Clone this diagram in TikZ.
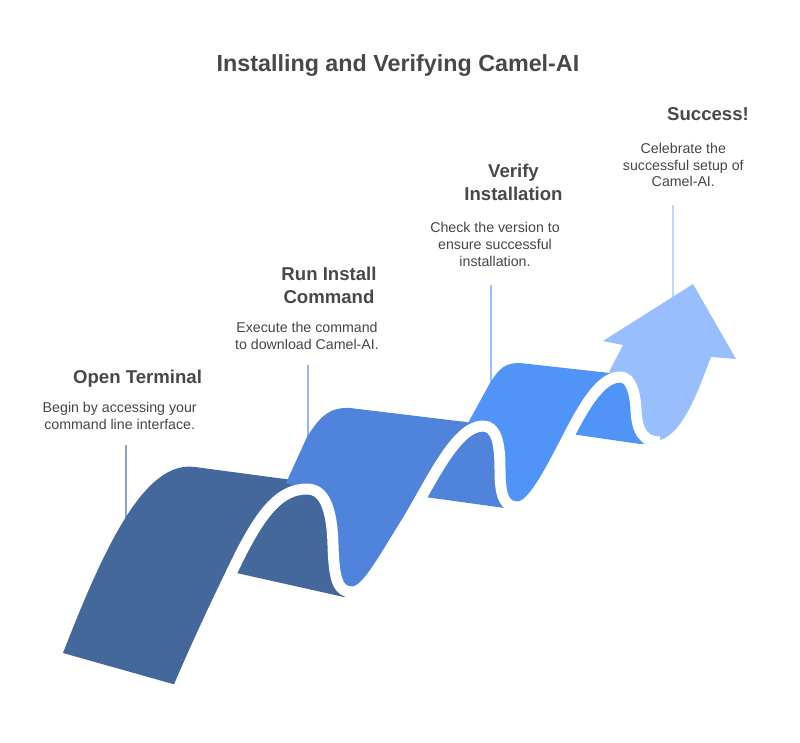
\documentclass[tikz,border=0pt]{standalone}
\usepackage{fontspec}
\setmainfont{Liberation Sans}

\definecolor{stepone}{HTML}{44679C}
\definecolor{steptwo}{HTML}{5084DC}
\definecolor{stepthree}{HTML}{5194F8}
\definecolor{stepfour}{HTML}{98BEFD}
\definecolor{headgray}{HTML}{484848}
\definecolor{descgray}{HTML}{454545}

\begin{document}
\begin{tikzpicture}[x=1pt, y=-1pt,
    title/.style={font=\bfseries\fontsize{23.3}{28}\selectfont, text=headgray, anchor=base, inner sep=0pt},
    heading/.style={font=\bfseries\fontsize{18.6}{22.8}\selectfont, text=headgray, align=center, anchor=base, inner sep=0pt},
    desc/.style={font=\fontsize{14.2}{16.7}\selectfont, text=descgray, align=center, anchor=base, inner sep=0pt},
    leader/.style={line width=1.6pt, opacity=0.6},
    band/.style={draw=white, line width=11pt, line join=round}]

    % Fix the size of the picture
    \useasboundingbox (0,0) rectangle (800,742);

    % Title
    \node[title] (title) at (398,71) {Installing and Verifying Camel-AI};

    % Headings and descriptions of the steps (placed at the baseline of the last line)
    \node[heading] (head1) at (137.5,383) {Open Terminal};
    \node[desc] (desc1) at (119.7,429.3) {Begin by accessing your\\command line interface.};
    \node[heading] (head2) at (329,303.3) {Run Install\\Command};
    \node[desc] (desc2) at (307,349.3) {Execute the command\\to download Camel-AI.};
    \node[heading] (head3) at (513.5,200.7) {Verify\\Installation};
    \node[desc] (desc3) at (495,266) {Check the version to\\ensure successful\\installation.};
    \node[heading] (head4) at (708,120.7) {Success!};
    \node[desc] (desc4) at (683.3,186.7) {Celebrate the\\successful setup of\\Camel-AI.};

    % Ends of the leader lines
    \coordinate (lead1) at (125.7,445);
    \coordinate (foot1) at (125.7,520);
    \coordinate (lead2) at (308,365);
    \coordinate (foot2) at (308,450);
    \coordinate (lead3) at (491,285);
    \coordinate (foot3) at (491,395);
    \coordinate (lead4) at (673,205);
    \coordinate (foot4) at (673,305);

    % Draw the leader lines
    \draw[leader, stepone] (lead1) -- (foot1);
    \draw[leader, steptwo] (lead2) -- (foot2);
    \draw[leader, stepthree] (lead3) -- (foot3);
    \draw[leader, stepfour] (lead4) -- (foot4);

    % Back flaps under the humps
    \fill[stepone] (232,572) -- (344,597) -- (352,592) .. controls (338,592) and (334,580) .. (333,545)
        .. controls (332,510) and (325,489) .. (307,489) .. controls (280,489) and (262,512) .. (240,555) -- cycle;
    \fill[steptwo] (425,497) -- (512,509) -- (518,507) .. controls (505,507) and (500,498) .. (500,470)
        .. controls (500,445) and (497,426) .. (483,426) .. controls (455,426) and (430,485) .. (405,525) -- cycle;
    \fill[stepthree] (571,434) -- (640,444) -- (660,442) .. controls (644,442) and (637,432) .. (636,410)
        .. controls (635,392) and (631,377) .. (620,377) .. controls (595,377) and (575,425) .. (555,462) -- cycle;

    % Front faces of the steps
    \fill[stepone] (63,653) -- (180,686) .. controls (200,640) and (222,597) .. (242,556)
        .. controls (263,514) and (281,491) .. (307,490) -- (300,481) -- (195,467)
        .. controls (145,460) and (105,545) .. (63,653) -- cycle;
    \fill[steptwo] (307,489) -- (286,483) -- (307,437) .. controls (320,416) and (330,407) .. (350,408)
        -- (466,422) -- (483,426) .. controls (455,426) and (430,485) .. (405,525)
        .. controls (380,565) and (366,592) .. (352,592) .. controls (338,592) and (334,580) .. (333,545)
        .. controls (332,510) and (325,489) .. (307,489) -- cycle;
    \fill[stepthree] (483,426) -- (468,423) -- (490,383) .. controls (500,367) and (506,363) .. (520,363)
        -- (610,373) -- (620,377) .. controls (595,377) and (575,425) .. (555,462)
        .. controls (540,490) and (528,507) .. (518,507) .. controls (505,507) and (500,498) .. (500,470)
        .. controls (500,445) and (497,426) .. (483,426) -- cycle;

    % Draw the arrow
    \fill[stepfour] (620,377) -- (609,372) -- (623,345) -- (603,341) -- (693,284) -- (736,359) -- (711,357)
        .. controls (700,385) and (683,438) .. (656,441) -- (660,442)
        .. controls (644,442) and (637,432) .. (636,410) .. controls (635,392) and (631,377) .. (620,377) -- cycle;

    % White band between the steps
    \draw[band] (176,694) .. controls (198,642) and (220,596) .. (240,555)
        .. controls (262,512) and (280,489) .. (307,489) .. controls (325,489) and (332,510) .. (333,545)
        .. controls (334,580) and (338,592) .. (352,592) .. controls (366,592) and (380,565) .. (405,525)
        .. controls (430,485) and (455,426) .. (483,426) .. controls (497,426) and (500,445) .. (500,470)
        .. controls (500,498) and (505,507) .. (518,507) .. controls (528,507) and (540,490) .. (555,462)
        .. controls (575,425) and (595,377) .. (620,377) .. controls (631,377) and (635,392) .. (636,410)
        .. controls (637,432) and (644,442) .. (660,442);

\end{tikzpicture}
\end{document}
